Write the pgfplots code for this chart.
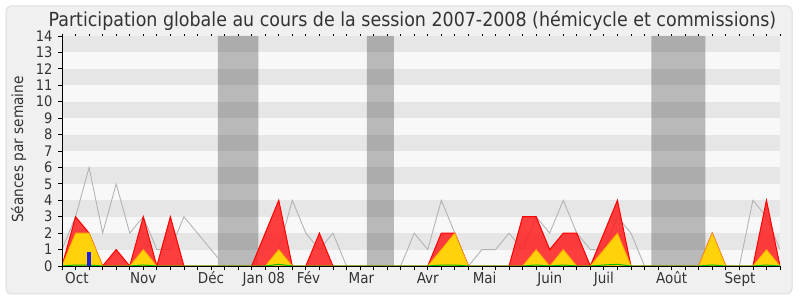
\documentclass[border=0pt]{standalone}
\usepackage{pgfplots}
\pgfplotsset{compat=1.18}
\usepackage{pgfplotstable}
\usepackage{fontspec}
\setmainfont{DejaVu Sans Condensed}
\definecolor{panel}{RGB}{240,240,240}
\definecolor{panelborder}{RGB}{222,222,222}
\definecolor{stripedark}{RGB}{230,230,230}
\definecolor{stripelight}{RGB}{248,248,248}
\definecolor{rouge}{RGB}{255,30,30}
\definecolor{rougetrait}{RGB}{255,0,0}
\definecolor{jaune}{RGB}{255,210,10}
\definecolor{jaunetrait}{RGB}{255,170,0}
\definecolor{vert}{RGB}{0,190,0}
\definecolor{gris}{RGB}{180,180,180}
\definecolor{bleu}{RGB}{30,30,230}
\definecolor{txt}{RGB}{51,51,51}

\pgfplotstableread{
x g r y v
0 1 0 0 0
1 3 3 2 0.06
2 6 2 2 0.06
3 2 0 0 0
4 5 1 0 0
5 2 0 0 0
6 3 3 1 0.06
7 1 0 0 0
8 1 3 0 0
9 3 0 0 0
10 2 0 0 0
11 1 0 0 0
12 0 0 0 0
13 0 0 0 0
14 0 0 0 0
15 0 2 0 0
16 1 4 1 0.1
17 4 0 0 0
18 2 0 0 0
19 1 2 0 0
20 2 0 0 0
21 0 0 0 0
22 0 0 0 0
23 0 0 0 0
24 0 0 0 0
25 0 0 0 0
26 2 0 0 0
27 1 0 0 0
28 4 2 1 0.06
29 2 2 2 0.06
30 0 0 0 0
31 1 0 0 0
32 1 0 0 0
33 2 0 0 0
34 1 3 0 0
35 3 3 1 0.06
36 2 1 0 0
37 4 2 1 0.06
38 2 2 0 0
39 1 0 0 0
40 1 2 1 0.06
41 3 4 2 0.1
42 2 0 0 0
43 0 0 0 0
44 0 0 0 0
45 0 0 0 0
46 0 0 0 0
47 0 0 0 0
48 0 2 2 0.06
49 0 0 0 0
50 0 0 0 0
51 4 0 0 0
52 3 4 1 0.06
53 1 0 0 0
}\data

\begin{document}
\begin{tikzpicture}
\useasboundingbox (0,0) rectangle (800bp,300bp);
\fill[white] (0,0) rectangle (800bp,300bp);
\filldraw[fill=panel, draw=panelborder, line width=1bp, rounded corners=5bp] (6bp,6bp) rectangle (792bp,294bp);
\node[anchor=base, text=txt, inner sep=0pt, font=\fontsize{19.4bp}{22bp}\selectfont] at (412.5bp,273.3bp) {Participation globale au cours de la session 2007-2008 (hémicycle et commissions)};
\node[rotate=90, anchor=base, text=txt, inner sep=0pt, font=\fontsize{15.2bp}{17bp}\selectfont] at (23bp,150.5bp) {Séances par semaine};

\begin{axis}[
  at={(62bp,34bp)}, anchor=south west, scale only axis,
  width=718bp, height=230bp,
  xmin=0, xmax=53, ymin=0, ymax=14,
  axis on top,
  axis x line*=bottom, axis y line*=left,
  axis line style={-, black, line width=0.8bp},
  tick style={black, line width=0.8bp},
  tick align=outside, major tick length=4bp,
  xtick={0,...,53}, xticklabels={},
  ytick={0,...,14},
  /pgf/number format/assume math mode=true,
  y tick label style={font=\fontsize{14.5bp}{16bp}\selectfont, text=txt, xshift=-2bp},
  x tick label style={font=\fontsize{15bp}{17bp}\selectfont, text=txt},
  extra x ticks={1.1,6,11,14.9,18.2,22.1,27,31.2,36,40,45,50.05},
  extra x tick labels={Oct,Nov,Déc,Jan 08,Fév,Mar,Avr,Mai,Juin,Juil,Août,Sept},
  extra x tick style={major tick length=0pt, tick label style={anchor=base, yshift=-17.3bp}},
]
\fill[stripelight] (axis cs:0,0) rectangle (axis cs:53,14);
\fill[stripedark] (axis cs:0,1) rectangle (axis cs:53,2);
\fill[stripedark] (axis cs:0,3) rectangle (axis cs:53,4);
\fill[stripedark] (axis cs:0,5) rectangle (axis cs:53,6);
\fill[stripedark] (axis cs:0,7) rectangle (axis cs:53,8);
\fill[stripedark] (axis cs:0,9) rectangle (axis cs:53,10);
\fill[stripedark] (axis cs:0,11) rectangle (axis cs:53,12);
\fill[stripedark] (axis cs:0,13) rectangle (axis cs:53,14);
% vacances
\addplot[fill=black, fill opacity=0.25, draw=none] coordinates {(11.5,0)(11.5,14)(14.5,14)(14.5,0)} \closedcycle;
\addplot[fill=black, fill opacity=0.25, draw=none] coordinates {(22.5,0)(22.5,14)(24.5,14)(24.5,0)} \closedcycle;
\addplot[fill=black, fill opacity=0.25, draw=none] coordinates {(43.5,0)(43.5,14)(47.5,14)(47.5,0)} \closedcycle;
% median line
\addplot[gris, line width=0.9bp, mark=none] table[x=x,y=g] {\data};
% red area
\addplot[fill=rouge, fill opacity=0.85, draw=rougetrait, line width=1bp, mark=none] table[x=x,y=r] {\data} \closedcycle;
% yellow area
\addplot[fill=jaune, draw=jaunetrait, line width=0.8bp, mark=none] table[x=x,y=y] {\data} \closedcycle;
% green
\addplot[vert, line width=1bp, mark=none] table[x=x,y=v] {\data};
% blue bar
\addplot[ybar, bar width=4bp, fill=bleu, draw=none] coordinates {(2,0.87)};
\end{axis}

\begin{axis}[
  at={(62bp,34bp)}, anchor=south west, scale only axis,
  width=718bp, height=230bp,
  xmin=0, xmax=53, ymin=0, ymax=14,
  axis x line*=top, hide y axis,
  x axis line style={draw=none},
  xtick={0,...,53}, xticklabels={},
  tick align=outside, major tick length=1.5bp,
  tick style={black, line width=0.8bp},
]
\end{axis}
\end{tikzpicture}
\end{document}
